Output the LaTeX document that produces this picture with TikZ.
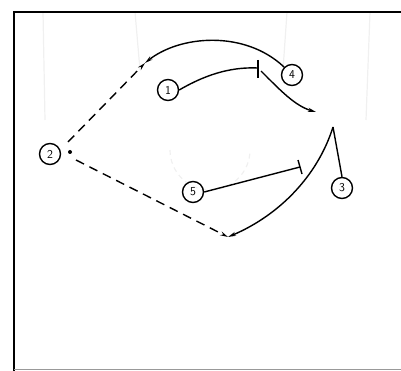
\documentclass[tikz,border=0pt]{standalone}
\usepackage{tikz}
\usetikzlibrary{arrows.meta,calc}

\begin{document}
\begin{tikzpicture}[
  x=1pt, y=-1pt,
  plr/.style={draw, circle, line width=1.4pt, minimum size=21pt, inner sep=0pt,
              font=\sffamily\fontsize{12}{12}\selectfont},
  cut/.style={line width=1.4pt, -{Stealth[length=8pt,width=4pt]}},
  pass/.style={cut, dash pattern=on 9pt off 6pt},
  scr/.style={line width=1.4pt},
  court/.style={line width=1.2pt, black!6}
]
\useasboundingbox (0,0) rectangle (401,371);
% faint court lines behind
\draw[court] (43,12) -- (45,120);
\draw[court] (135,12) -- (140,70);
\draw[court] (287,12) -- (283,70);
\draw[court] (370,12) -- (366,120);
\draw[court, dash pattern=on 5pt off 4pt] (170,150) arc[start angle=180, end angle=0, radius=40];
\draw[court] (160,371) arc[start angle=180, end angle=0, radius=50];
% frame
\draw[line width=2pt] (14,371) -- (14,12) -- (402,12);
\draw[line width=1pt, black!40] (14,369) -- (402,369);

% players
\node[plr] (p1) at (168,90) {1};
\node[plr] (p2) at (50,154) {2};
\node[plr] (p3) at (342,188) {3};
\node[plr] (p4) at (292,75) {4};
\node[plr] (p5) at (193,192) {5};

% path points
\coordinate (ball) at (70,152);
\coordinate (wing) at (145,63);
\coordinate (scr1) at (258,68);
\coordinate (roll) at (316,112);
\coordinate (turn) at (333,127);
\coordinate (low) at (228,237);
\coordinate (scr5) at (300,167);

\fill (ball) circle (2);
\draw[pass] ($(ball)+(-2,-10)$) -- (wing);
\draw[pass] ($(ball)+(6,8)$) -- (low);

\draw[cut] (p4.north west) .. controls (245,30) and (180,35) .. (wing);
\draw[scr] (p1.east) .. controls (210,72) and (235,67) .. (scr1);
\draw[scr] ($(scr1)+(0,-8)$) -- ($(scr1)+(0,10)$);
\draw[cut] ($(scr1)+(3,3)$) .. controls (280,90) and (295,106) .. (roll);
\draw[scr] (p3.north) -- (turn);
\draw[cut] (turn) .. controls (318,175) and (280,215) .. (low);
\draw[scr] (p5.east) -- (scr5);
\draw[scr] ($(scr5)+(-2,-7)$) -- ($(scr5)+(2,7)$);
\end{tikzpicture}
\end{document}
